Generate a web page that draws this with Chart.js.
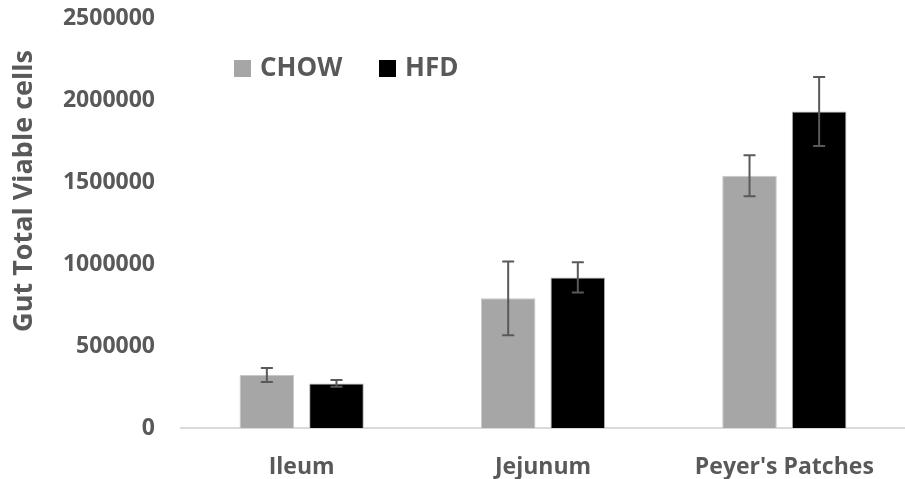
<!DOCTYPE html>
<html>
<head>
<meta charset="utf-8">
<script src="https://cdn.jsdelivr.net/npm/chart.js@4.4.0/dist/chart.umd.min.js"></script>
<style>
  html, body { margin: 0; padding: 0; background: #fff; }
</style>
</head>
<body>
<canvas id="chart" width="905" height="479"></canvas>
<script>
// --- Data ---
const categories = ['Ileum', 'Jejunum', "Peyer's Patches"];
const chowValues = [323000, 791000, 1538000];
const chowErrors = [43000, 225000, 125000];
const hfdValues = [272000, 918000, 1930000];
const hfdErrors = [20000, 92000, 210000];
const yMax = 2500000;
const yStep = 500000;
const yTitle = 'Gut Total Viable cells';

const TEXT = '#595959';
const FONT = '"Open Sans", "DejaVu Sans", sans-serif';

// error bars drawn from each bar's own position
const errorBars = {
    id: 'errorBars',
    afterDatasetsDraw(chart) {
        const ctx = chart.ctx;
        const y = chart.scales.y;
        chart.data.datasets.forEach((ds, i) => {
            const meta = chart.getDatasetMeta(i);
            meta.data.forEach((bar, j) => {
                const v = ds.data[j], e = ds.errors[j];
                const top = y.getPixelForValue(v + e);
                const bot = y.getPixelForValue(v - e);
                ctx.save();
                ctx.strokeStyle = TEXT;
                ctx.lineWidth = 2;
                ctx.beginPath();
                ctx.moveTo(bar.x, top); ctx.lineTo(bar.x, bot);
                ctx.moveTo(bar.x - 6, top); ctx.lineTo(bar.x + 6, top);
                ctx.moveTo(bar.x - 6, bot); ctx.lineTo(bar.x + 6, bot);
                ctx.stroke();
                ctx.restore();
            });
        });
    }
};

// legend inside the plot + rotated y title
const extras = {
    id: 'extras',
    afterDraw(chart) {
        const ctx = chart.ctx;
        ctx.save();
        ctx.font = 'bold 26px ' + FONT;
        ctx.textBaseline = 'middle';
        let x = 234;
        chart.data.datasets.forEach(ds => {
            ctx.fillStyle = ds.backgroundColor;
            ctx.fillRect(x, 60, 17, 17);
            ctx.fillStyle = TEXT;
            ctx.fillText(ds.label, x + 26, 69);
            x = 379;
        });
        ctx.translate(24, 191);
        ctx.rotate(-Math.PI / 2);
        ctx.textAlign = 'center';
        ctx.font = 'bold 27px ' + FONT;
        ctx.fillText(yTitle, 0, 0);
        ctx.restore();
    }
};

new Chart(document.getElementById('chart'), {
    type: 'bar',
    data: {
        labels: categories,
        datasets: [
            { label: 'CHOW', data: chowValues, errors: chowErrors,
              backgroundColor: '#a6a6a6', borderColor: '#c8c8c8', borderWidth: 1 },
            { label: 'HFD', data: hfdValues, errors: hfdErrors,
              backgroundColor: '#000000', borderColor: '#b0b0b0', borderWidth: 1 }
        ]
    },
    options: {
        responsive: false,
        animation: false,
        categoryPercentage: 0.577,
        barPercentage: 0.784,
        layout: { padding: { top: 18, right: 0, left: 0, bottom: 0 } },
        plugins: { legend: { display: false }, tooltip: { enabled: false } },
        scales: {
            x: {
                grid: { display: false },
                border: { display: true, color: '#d9d9d9', width: 2 },
                ticks: { color: TEXT, font: { family: FONT, size: 23, weight: 'bold' }, padding: 18 },
                afterFit(s) { s.height = 51; s.paddingLeft = 0; s.paddingRight = 0; }
            },
            y: {
                min: 0, max: yMax,
                grid: { display: false },
                border: { display: false },
                ticks: {
                    stepSize: yStep,
                    color: TEXT,
                    font: { family: FONT, size: 23, weight: 'bold' },
                    padding: 18,
                    callback: v => String(v)
                },
                afterFit(s) { s.width = 181; s.paddingTop = 0; s.paddingBottom = 0; }
            }
        }
    },
    plugins: [errorBars, extras]
});
</script>
</body>
</html>
